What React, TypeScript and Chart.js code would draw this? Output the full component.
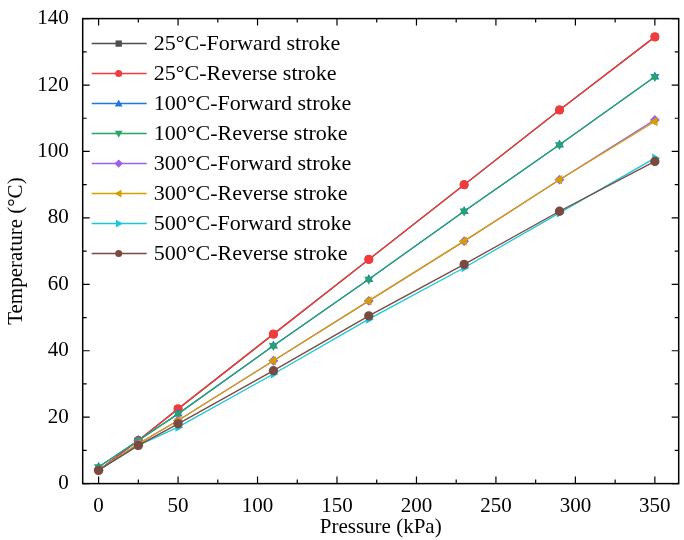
import React, { useEffect, useRef } from "react";
import { Chart, registerables } from "chart.js";
Chart.register(...registerables);

const pressure = [0, 25, 50, 110, 170, 230, 290, 350];
const s25F = [4, 13, 22.5, 45, 67.5, 90, 112.5, 134.5];
const s25R = [4, 13, 22.5, 45, 67.5, 90, 112.5, 134.5];
const s100F = [5, 13, 21, 41.5, 61.5, 82, 102, 122.5];
const s100R = [5, 13, 21, 41.5, 61.5, 82, 102, 122.5];
const s300F = [4, 12, 19, 37, 55, 73, 91.5, 109.5];
const s300R = [4, 12, 19, 37, 55, 73, 91.5, 109];
const s500F = [4, 11.5, 17, 33, 49.5, 65, 81.5, 98];
const s500R = [4, 11.5, 18, 34, 50.5, 66, 82, 97];
const xTicks = [0, 50, 100, 150, 200, 250, 300, 350];
const yTicks = [0, 20, 40, 60, 80, 100, 120, 140];

const series = [
  { label: "25°C-Forward stroke", data: s25F, color: "#4d4d4d", style: "rect", rot: 0 },
  { label: "25°C-Reverse stroke", data: s25R, color: "#f03c3c", style: "circle", rot: 0 },
  { label: "100°C-Forward stroke", data: s100F, color: "#1f78e0", style: "triangle", rot: 0 },
  { label: "100°C-Reverse stroke", data: s100R, color: "#27a46a", style: "triangle", rot: 180 },
  { label: "300°C-Forward stroke", data: s300F, color: "#a15ee6", style: "rectRot", rot: 0 },
  { label: "300°C-Reverse stroke", data: s300R, color: "#d4a000", style: "triangle", rot: -90 },
  { label: "500°C-Forward stroke", data: s500F, color: "#18c8d8", style: "triangle", rot: 90 },
  { label: "500°C-Reverse stroke", data: s500R, color: "#7a4a40", style: "circle", rot: 0 },
];

function marker(ctx: CanvasRenderingContext2D, style: string, rot: number, x: number, y: number, r: number) {
  ctx.save();
  ctx.translate(x, y);
  ctx.rotate((rot * Math.PI) / 180);
  ctx.beginPath();
  if (style === "rect") ctx.rect(-r * 0.9, -r * 0.9, r * 1.8, r * 1.8);
  else if (style === "circle") ctx.arc(0, 0, r, 0, Math.PI * 2);
  else if (style === "rectRot") { ctx.moveTo(0, -r * 1.2); ctx.lineTo(r * 1.2, 0); ctx.lineTo(0, r * 1.2); ctx.lineTo(-r * 1.2, 0); ctx.closePath(); }
  else { ctx.moveTo(0, -r * 1.2); ctx.lineTo(r * 1.1, r * 0.8); ctx.lineTo(-r * 1.1, r * 0.8); ctx.closePath(); }
  ctx.fill();
  ctx.restore();
}

const framePlugin = {
  id: "frame",
  afterDraw(chart: any) {
    const { ctx, chartArea: a, scales } = chart;
    ctx.save();
    ctx.strokeStyle = "#000";
    ctx.lineWidth = 1.5;
    ctx.strokeRect(a.left, a.top, a.right - a.left, a.bottom - a.top);
    ctx.lineWidth = 1.2;
    ctx.beginPath();
    for (let v = 0; v <= 350; v += 25) {
      const x = scales.x.getPixelForValue(v);
      const L = v % 50 === 0 ? 7 : 4;
      ctx.moveTo(x, a.bottom); ctx.lineTo(x, a.bottom - L);
      ctx.moveTo(x, a.top); ctx.lineTo(x, a.top + L);
    }
    for (let v = 0; v <= 140; v += 10) {
      const y = scales.y.getPixelForValue(v);
      const L = v % 20 === 0 ? 7 : 4;
      ctx.moveTo(a.left, y); ctx.lineTo(a.left + L, y);
      ctx.moveTo(a.right, y); ctx.lineTo(a.right - L, y);
    }
    ctx.stroke();
    ctx.restore();
  },
};

export default function App() {
  const ref = useRef<HTMLCanvasElement>(null);
  useEffect(() => {
    const font = "'Liberation Serif', 'Times New Roman', serif";
    const chart = new Chart(ref.current!, {
      type: "line",
      data: {
        datasets: series.map((s, i) => ({
          label: s.label,
          data: pressure.map((x, j) => ({ x, y: s.data[j] })),
          borderColor: s.color,
          backgroundColor: s.color,
          pointStyle: s.style as any,
          rotation: s.rot,
          pointRadius: 4,
          borderWidth: 1.3,
          order: series.length - i,
        })),
      },
      options: {
        animation: false,
        responsive: false,
        layout: { padding: { top: 10, right: 3, left: 0, bottom: 0 } },
        plugins: {
          legend: { display: false },
          tooltip: { enabled: false },
        },
        scales: {
          x: {
            type: "linear", min: -10, max: 365,
            afterBuildTicks: (ax: any) => { ax.ticks = xTicks.map((v) => ({ value: v })); },
            grid: { display: false },
            border: { display: false },
            ticks: { color: "#000", font: { family: font, size: 21 }, padding: 2, maxRotation: 0 },
            title: { display: true, text: "Pressure (kPa)", color: "#000", font: { family: font, size: 21 }, padding: { top: -6, bottom: 0 } },
          },
          y: {
            min: 0, max: 140,
            afterBuildTicks: (ax: any) => { ax.ticks = yTicks.map((v) => ({ value: v })); },
            grid: { display: false },
            border: { display: false },
            ticks: { color: "#000", font: { family: font, size: 21 }, padding: 6 },
            title: { display: true, text: "Temperature (°C)", color: "#000", font: { family: font, size: 21 }, padding: { bottom: 2 } },
          },
        },
      },
      plugins: [
        framePlugin,
        {
          id: "legendBox",
          afterDraw(chart: any) {
            const { ctx, chartArea: a } = chart;
            ctx.save();
            ctx.font = `22px ${font}`;
            ctx.textBaseline = "middle";
            series.forEach((s, i) => {
              const y = a.top + 25 + i * 30;
              const x0 = a.left + 9;
              ctx.strokeStyle = s.color; ctx.lineWidth = 1.5;
              ctx.beginPath(); ctx.moveTo(x0, y); ctx.lineTo(x0 + 55, y); ctx.stroke();
              ctx.fillStyle = s.color;
              marker(ctx, s.style, s.rot, x0 + 27, y, 3.5);
              ctx.fillStyle = "#000";
              ctx.fillText(s.label, x0 + 62, y + 1);
            });
            ctx.restore();
          },
        },
      ],
    });
    return () => chart.destroy();
  }, []);
  return (
    <div style={{ position: "absolute", left: 0, top: 0, width: 684, height: 540, background: "#fff" }}>
      <canvas ref={ref} width={684} height={540} />
    </div>
  );
}
